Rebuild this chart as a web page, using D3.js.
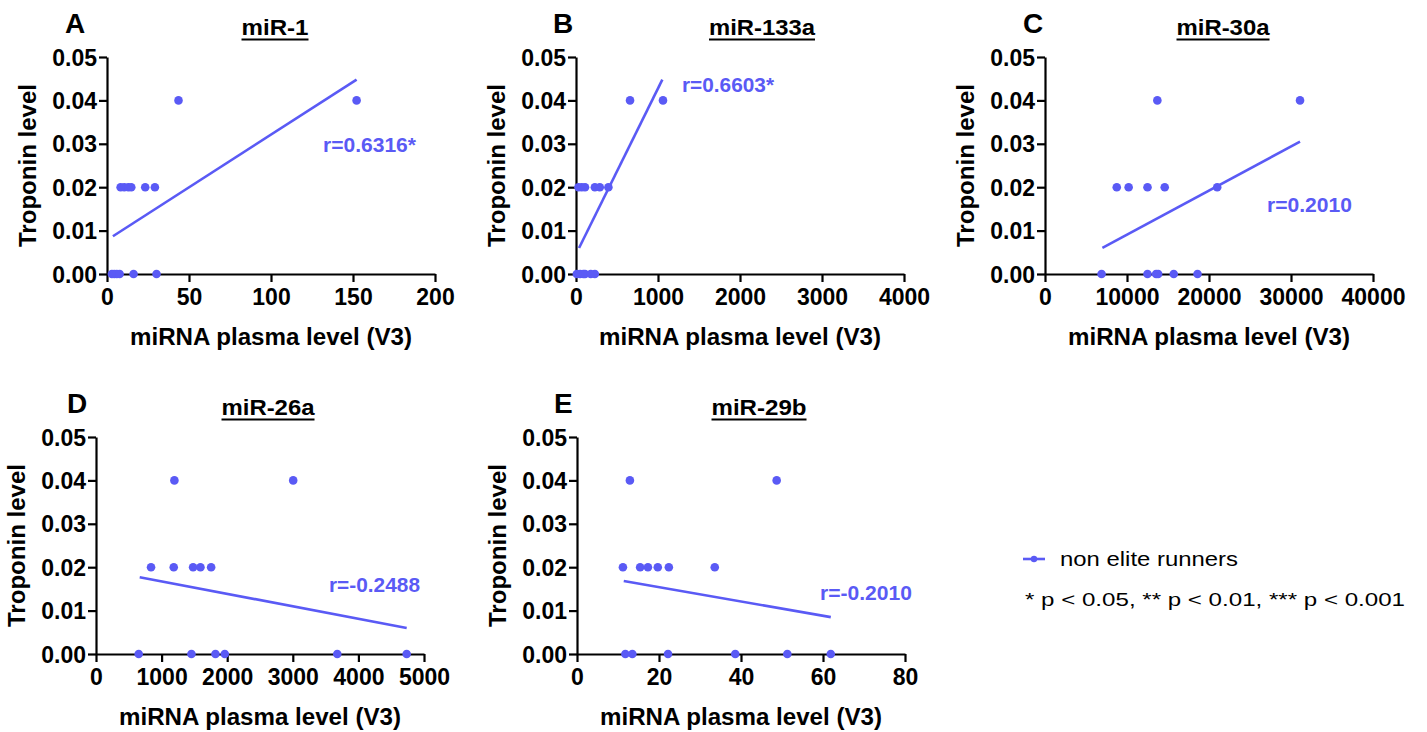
<!DOCTYPE html>
<html>
<head>
<meta charset="utf-8">
<script src="https://cdn.jsdelivr.net/npm/d3@7"></script>
<style>
  html, body { margin: 0; padding: 0; background: #fff; }
  svg { display: block; }
  text { font-family: "Liberation Sans", Arial, Helvetica, sans-serif; }
</style>
</head>
<body>
<svg id="chart" width="1427" height="732"></svg>
<script>
// ---------- DATA ----------
const panelLetters = ["A", "B", "C", "D", "E"];
const titles = ["miR-1", "miR-133a", "miR-30a", "miR-26a", "miR-29b"];
const xMax = [200, 4000, 40000, 5000, 80];
const xTickStep = [50, 1000, 10000, 1000, 20];
const yTicks = [0, 0.01, 0.02, 0.03, 0.04, 0.05];
const rLabels = ["r=0.6316*", "r=0.6603*", "r=0.2010", "r=-0.2488", "r=-0.2010"];
const xLabel = "miRNA plasma level (V3)";
const yLabel = "Troponin level";
const legendSeries = "non elite runners";
const legendNote = "* p < 0.05, ** p < 0.01, *** p < 0.001";

// miRNA plasma level (x) and troponin level (y) per panel
const xA = [43.6, 152.2, 8.3, 10.5, 13, 14.8, 23.3, 29.2, 3, 4.5, 6, 7.7, 16.2, 30.2];
const yA = [0.04, 0.04, 0.02, 0.02, 0.02, 0.02, 0.02, 0.02, 0, 0, 0, 0, 0, 0];
const xB = [659, 1061, 30, 70, 110, 230, 290, 395, 10, 50, 90, 110, 180, 230];
const yB = [0.04, 0.04, 0.02, 0.02, 0.02, 0.02, 0.02, 0.02, 0, 0, 0, 0, 0, 0];
const xC = [13700, 31100, 8750, 10200, 12500, 14600, 21000, 6900, 12500, 13550, 13800, 15700, 18600];
const yC = [0.04, 0.04, 0.02, 0.02, 0.02, 0.02, 0.02, 0, 0, 0, 0, 0, 0];
const xD = [1195, 3006, 839, 1185, 1480, 1592, 1755, 651, 1455, 1821, 1963, 3678, 4736];
const yD = [0.04, 0.04, 0.02, 0.02, 0.02, 0.02, 0.02, 0, 0, 0, 0, 0, 0];
const xE = [12.9, 48.7, 11.2, 15.4, 17.3, 19.7, 22.4, 33.6, 11.8, 13.5, 22.2, 38.6, 51.3, 61.9];
const yE = [0.04, 0.04, 0.02, 0.02, 0.02, 0.02, 0.02, 0.02, 0, 0, 0, 0, 0, 0];
const xs = [xA, xB, xC, xD, xE];
const ys = [yA, yB, yC, yD, yE];

// regression line end points (data units)
const fitX1 = [3.6, 37, 7000, 666, 11.4];
const fitY1 = [0.0087, 0.006, 0.006, 0.0177, 0.0168];
const fitX2 = [152.2, 1053, 31100, 4736, 61.9];
const fitY2 = [0.0448, 0.0448, 0.0305, 0.006, 0.0085];

// ---------- LAYOUT ----------
const color = "#5a5af5";
const plotW = 328, plotH = 217;
const panelLeft = [107, 576, 1045, 96, 577];
const panelTop = [57, 57, 57, 437, 437];
const letterDx = [-42, -23, -22, -29, -23];
const titleDx = [168, 186, 178, 172, 182];
const titleW = [67, 106, 93, 93, 95];
const rDx = [216, 106, 222, 233, 243];
const rDy = [95, 35, 155, 155, 163];
const rW = [93, 92, 85, 91, 92];

const svg = d3.select("#chart");

panelLetters.forEach((letter, i) => {
  const g = svg.append("g").attr("transform", `translate(${panelLeft[i]},${panelTop[i]})`);
  const x = d3.scaleLinear().domain([0, xMax[i]]).range([0, plotW]);
  const y = d3.scaleLinear().domain([0, 0.05]).range([plotH, 0]);

  // Y axis
  const yAxis = d3.axisLeft(y).tickValues(yTicks).tickFormat(d3.format(".2f"))
    .tickSize(8).tickPadding(3).tickSizeOuter(0);
  const gy = g.append("g").call(yAxis);
  gy.select(".domain").attr("stroke", "#000").attr("stroke-width", 2.2);
  gy.selectAll(".tick line").attr("stroke", "#000").attr("stroke-width", 2.2);
  gy.selectAll(".tick text").attr("font-size", 23).attr("font-weight", "bold")
    .attr("fill", "#000").attr("dy", "0.35em").attr("x", -10);

  // X axis
  const xt = d3.range(0, xMax[i] + xTickStep[i] / 2, xTickStep[i]);
  const xAxis = d3.axisBottom(x).tickValues(xt).tickFormat(d3.format("d"))
    .tickSize(8).tickPadding(3).tickSizeOuter(0);
  const gx = g.append("g").attr("transform", `translate(0,${plotH})`).call(xAxis);
  gx.select(".domain").attr("stroke", "#000").attr("stroke-width", 2.2);
  gx.selectAll(".tick line").attr("stroke", "#000").attr("stroke-width", 2.2);
  gx.selectAll(".tick text").attr("font-size", 23).attr("font-weight", "bold")
    .attr("fill", "#000").attr("dy", null).attr("y", 31);

  // Axis titles
  g.append("text").attr("x", plotW / 2).attr("y", plotH + 71)
    .attr("text-anchor", "middle").attr("font-size", 23).attr("font-weight", "bold")
    .attr("textLength", 282).attr("lengthAdjust", "spacingAndGlyphs")
    .text(xLabel);
  g.append("text").attr("transform", `translate(-71,${plotH / 2}) rotate(-90)`)
    .attr("text-anchor", "middle").attr("font-size", 23).attr("font-weight", "bold")
    .attr("textLength", 163).attr("lengthAdjust", "spacingAndGlyphs")
    .text(yLabel);

  // Panel letter
  g.append("text").attr("x", letterDx[i]).attr("y", -24)
    .attr("font-size", 28).attr("font-weight", "bold").text(letter);

  // Title with underline
  g.append("text").attr("x", titleDx[i]).attr("y", -22)
    .attr("text-anchor", "middle").attr("font-size", 22).attr("font-weight", "bold")
    .attr("textLength", titleW[i]).attr("lengthAdjust", "spacingAndGlyphs")
    .text(titles[i]);
  g.append("line").attr("x1", titleDx[i] - titleW[i] / 2).attr("x2", titleDx[i] + titleW[i] / 2)
    .attr("y1", -17.5).attr("y2", -17.5).attr("stroke", "#000").attr("stroke-width", 2);

  // Regression line
  g.append("line")
    .attr("x1", x(fitX1[i])).attr("y1", y(fitY1[i]))
    .attr("x2", x(fitX2[i])).attr("y2", y(fitY2[i]))
    .attr("stroke", color).attr("stroke-width", 2.6);

  // Points
  g.append("g").selectAll("circle").data(xs[i].map((v, k) => [v, ys[i][k]]))
    .join("circle")
    .attr("cx", d => x(d[0])).attr("cy", d => y(d[1])).attr("r", 4.3)
    .attr("fill", color);

  // r label
  g.append("text").attr("x", rDx[i]).attr("y", rDy[i])
    .attr("font-size", 20).attr("font-weight", "bold").attr("fill", color)
    .attr("textLength", rW[i]).attr("lengthAdjust", "spacingAndGlyphs")
    .text(rLabels[i]);
});

// Legend
const lg = svg.append("g");
lg.append("line").attr("x1", 1023).attr("x2", 1045).attr("y1", 559).attr("y2", 559)
  .attr("stroke", color).attr("stroke-width", 2.6);
lg.append("circle").attr("cx", 1034).attr("cy", 559).attr("r", 3.2).attr("fill", color);
lg.append("text").attr("x", 1060).attr("y", 566).attr("font-size", 20)
  .attr("textLength", 178).attr("lengthAdjust", "spacingAndGlyphs").text(legendSeries);
lg.append("text").attr("x", 1025).attr("y", 606).attr("font-size", 19)
  .attr("textLength", 380).attr("lengthAdjust", "spacingAndGlyphs").text(legendNote);
</script>
</body>
</html>
